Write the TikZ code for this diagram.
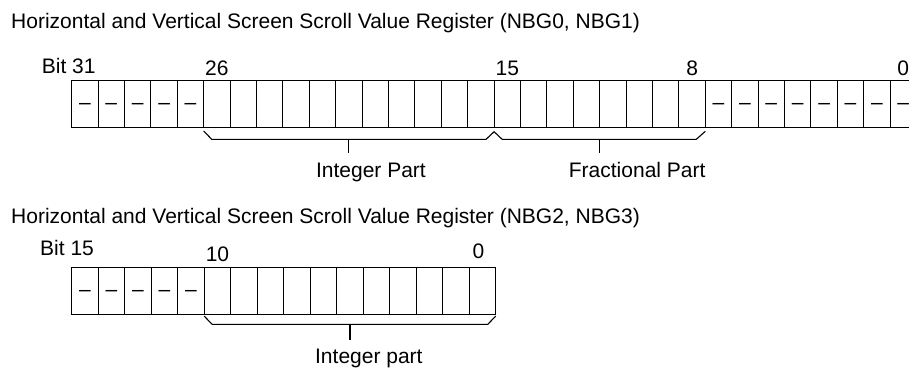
\documentclass[tikz,border=0pt]{standalone}
\usepackage{fontspec}
\setmainfont{Liberation Sans}
\usetikzlibrary{positioning, calc}

\tikzset{
  lbl/.style={font=\fontsize{21}{25}\selectfont, inner sep=0pt, anchor=base},
  bitcell/.style={draw, line width=1.1pt, inner sep=0pt, outer sep=0pt, minimum height=46.6pt},
  brk/.style={line width=1.1pt}
}

\begin{document}
\begin{tikzpicture}[x=1pt, y=-1pt]
\useasboundingbox (0,0) rectangle (909,367);

% NBG0, NBG1 register
\node[lbl, anchor=base west] (titleA) at (11,28) {Horizontal and Vertical Screen Scroll Value Register (NBG0, NBG1)};
\node[lbl, anchor=base west] (bitA) at (41.7,73) {Bit 31};
\foreach \b in {0,...,31}
  \node[bitcell, minimum width=26.4pt] (ra\b) at ({71.7+26.4*(31-\b+0.5)},104) {};
\foreach \b in {0,...,7,27,28,29,30,31}
  \node[lbl] (da\b) at ([yshift=-5.8pt]ra\b.center) {–};
\foreach \b in {26,15,8,0}
  \node[lbl] (na\b) at ([yshift=5.2pt]ra\b.north) {\b};

% Brackets
\draw[brk] ([yshift=-3.7pt]ra26.south west) -- ++(8,8.3) -- ([xshift=-8pt,yshift=-12pt]ra15.south west)
  -- ([yshift=-4.4pt]ra15.south west) -- ++(8,7.6) -- ([xshift=-9pt,yshift=-12pt]ra8.south east)
  -- ([yshift=-4pt]ra8.south east);
\coordinate (tickA) at ($(ra26.south west)!0.5!(ra15.south west)+(0,12)$);
\coordinate (tickB) at ($(ra15.south west)!0.5!(ra8.south east)+(0,12)$);
\draw[brk] (tickA) -- ++(0,13.7);
\draw[brk] (tickB) -- ++(0,13.7);
\node[lbl, anchor=base west] (intA) at ([xshift=-33pt,yshift=-37.7pt]tickA) {Integer Part};
\node[lbl, anchor=base west] (fracA) at ([xshift=-31pt,yshift=-37.7pt]tickB) {Fractional Part};

% NBG2, NBG3 register
\node[lbl, anchor=base west] (titleB) at (11,223) {Horizontal and Vertical Screen Scroll Value Register (NBG2, NBG3)};
\node[lbl, anchor=base west] (bitB) at (40,255) {Bit 15};
\foreach \b in {0,...,15}
  \node[bitcell, minimum width=26.5pt] (rb\b) at ({71.7+26.5*(15-\b+0.5)},290.8) {};
\foreach \b in {11,...,15}
  \node[lbl] (db\b) at ([yshift=-5.8pt]rb\b.center) {–};
\node[lbl] (nb10) at ([yshift=5.7pt]rb10.north) {10};
\node[lbl] (nb0) at ([xshift=-4pt,yshift=8.7pt]rb0.north) {0};

\draw[brk] ([yshift=-2pt]rb10.south west) -- ++(8,8.3) -- ([xshift=-8pt,yshift=-10.3pt]rb0.south east)
  -- ([yshift=-2pt]rb0.south east);
\coordinate (tickC) at ($(rb10.south west)!0.5!(rb0.south east)+(0,10.3)$);
\draw[brk] (tickC) -- ++(0,16);
\node[lbl, anchor=base west] (intB) at ([xshift=-35pt,yshift=-39pt]tickC) {Integer part};
\end{tikzpicture}
\end{document}
